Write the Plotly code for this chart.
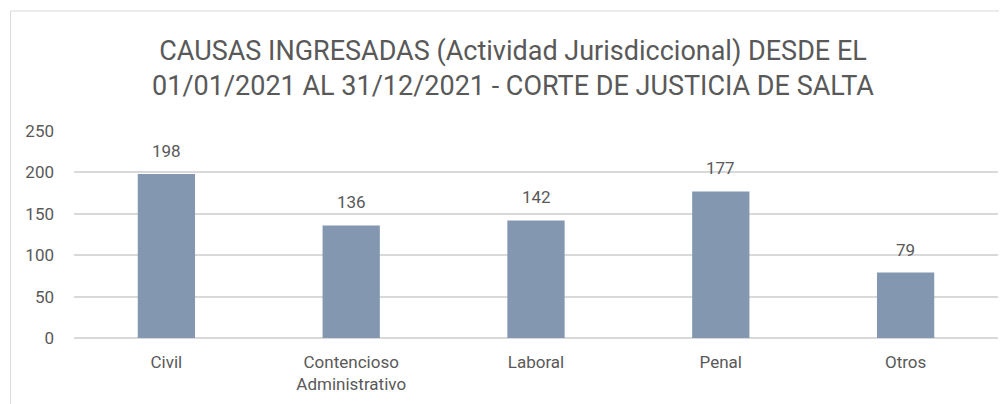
import plotly.graph_objects as go

categories = ["Civil", "Contencioso<br>Administrativo", "Laboral", "Penal", "Otros"]
values = [198, 136, 142, 177, 79]
y_ticks = [0, 50, 100, 150, 200, 250]

FONT = "Roboto"
TXT = "#595959"

OFF = 8  # page body margin offset
W, H = 1007 - OFF, 404 - OFF
L, R, T, B = 73.5 - OFF, 8.5, 131 - OFF, 66
pw, ph = W - L - R, H - T - B

fig = go.Figure()
fig.add_trace(go.Bar(x=categories, y=values, marker=dict(color="#8497B0", line=dict(width=0)),
                     width=0.31, hoverinfo="skip"))

for c, v in zip(categories, values):
    fig.add_annotation(x=c, y=v, text=str(v), showarrow=False, yanchor="bottom",
                       yshift=11, font=dict(family=FONT, size=17, color=TXT))

# outer chart border
fig.add_shape(type="rect", xref="paper", yref="paper",
              x0=(10 - OFF - L) / pw, x1=(1015 - L) / pw,
              y0=-(420 - (T + ph)) / ph, y1=((T + ph) - (11 - OFF)) / ph,
              line=dict(color="#D9D9D9", width=1), fillcolor="rgba(0,0,0,0)", layer="below")

fig.update_layout(
    width=W, height=H,
    margin=dict(l=L, r=R, t=T, b=B),
    paper_bgcolor="white", plot_bgcolor="white",
    showlegend=False,
    title=dict(text="CAUSAS INGRESADAS (Actividad Jurisdiccional) DESDE EL<br>01/01/2021 AL 31/12/2021 - CORTE DE JUSTICIA DE SALTA",
               x=(513 - OFF) / W, xanchor="center", y=1 - (60 - OFF) / H, yanchor="middle",
               font=dict(family=FONT, size=27, color=TXT)),
    xaxis=dict(showgrid=False, showline=False, ticks="", tickfont=dict(family=FONT, size=17, color=TXT),
               ticklabelstandoff=12, fixedrange=True),
    yaxis=dict(range=[0, 250], tickvals=y_ticks, showgrid=True, gridcolor="#D9D9D9", gridwidth=1.5,
               zeroline=True, zerolinecolor="#D9D9D9", zerolinewidth=1.5, showline=False, ticks="",
               tickfont=dict(family=FONT, size=17, color=TXT), ticklabelstandoff=19, fixedrange=True),
)

fig.write_html("out.html")
